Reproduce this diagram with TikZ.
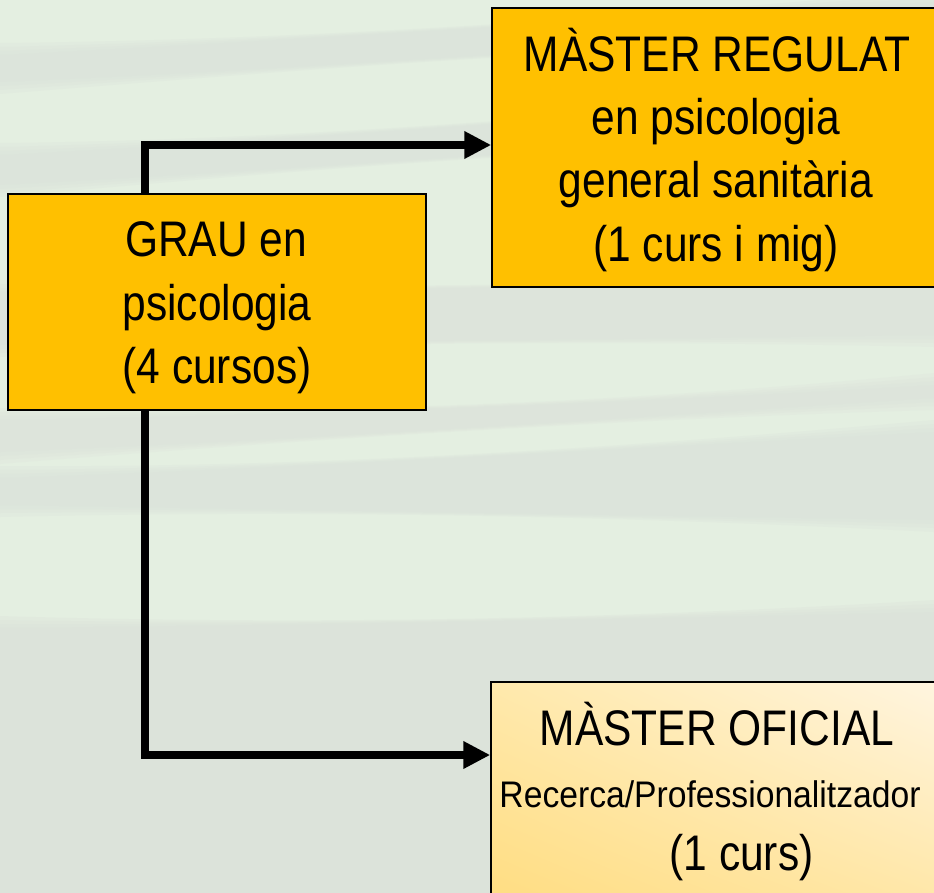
\documentclass[tikz,border=0pt]{standalone}
\usepackage{fontspec}
\setmainfont{Liberation Sans}[FakeStretch=0.85]
\newfontfamily\midsans{Liberation Sans}[FakeStretch=0.91]
\usetikzlibrary{arrows.meta,shadings}
\definecolor{bgA}{HTML}{E4EFE1}
\definecolor{bgB}{HTML}{DBE1DA}
\definecolor{boxfill}{HTML}{FFC000}
\definecolor{offUL}{HTML}{FFE9AC}
\definecolor{offUR}{HTML}{FFF5E0}
\definecolor{offLL}{HTML}{FFDC7E}
\definecolor{offLR}{HTML}{FFE6A4}
\tikzset{
  box/.style={draw=black, line width=1.5pt, fill=boxfill, inner sep=0pt},
  conn/.style={line width=8pt, line join=miter, -{Triangle[length=27pt,width=26pt]}},
  big/.style={inner sep=0pt, anchor=base, font=\fontsize{50pt}{62pt}\selectfont},
  small/.style={inner sep=0pt, anchor=base, font=\midsans\fontsize{37pt}{44pt}\selectfont},
  band/.style={fill=bgB, draw=none}
}
\begin{document}
\begin{tikzpicture}[x=1pt,y=-1pt]
\useasboundingbox (0,0) rectangle (934,893);
\fill[bgA] (0,0) rectangle (934,893);
% soft background bands
\begin{scope}
\clip (0,0) rectangle (934,893);
\foreach \e in {12,8,4,0}{
  \fill[band, opacity=0.28] (0,{55-\e}) .. controls (300,40) and (600,20) .. (934,{2-\e})
     -- (934,{30+\e}) .. controls (600,45) and (300,70) .. (0,{82+\e}) -- cycle;
  \fill[band, opacity=0.28] (0,{155-\e}) .. controls (300,140) and (600,115) .. (934,{95-\e})
     -- (934,{128+\e}) .. controls (600,145) and (300,170) .. (0,{185+\e}) -- cycle;
  \fill[band, opacity=0.22] (0,{292-\e}) .. controls (300,290) and (600,285) .. (934,{288-\e})
     -- (934,{335+\e}) .. controls (600,340) and (300,342) .. (0,{345+\e}) -- cycle;
  \fill[band, opacity=0.22] (0,{420-\e}) .. controls (300,415) and (600,405) .. (934,{385-\e})
     -- (934,{398+\e}) .. controls (600,420) and (300,440) .. (0,{452+\e}) -- cycle;
  \fill[band, opacity=0.28] (0,{478-\e}) .. controls (300,468) and (600,450) .. (934,{432-\e})
     -- (934,{520+\e}) .. controls (600,515) and (300,510) .. (0,{505+\e}) -- cycle;
  \fill[band, opacity=0.3] (0,{628-\e}) .. controls (300,625) and (600,620) .. (934,{612-\e})
     -- (934,893) -- (0,893) -- cycle;
}
\end{scope}
% boxes
\node[box, minimum width=418pt, minimum height=216pt] (grau) at (217,302) {};
\node[box, minimum width=448pt, minimum height=279pt] (regulat) at (716,147.5) {};
\node[draw=black, line width=1.5pt, inner sep=0pt, minimum width=449pt, minimum height=236pt,
      upper left=offUL, upper right=offUR, lower left=offLL, lower right=offLR] (oficial) at (715.5,800) {};
% connectors
\draw[conn] ([xshift=138pt]grau.north west) |- ([yshift=2.5pt]regulat.west);
\draw[conn] ([xshift=138pt]grau.south west) |- ([yshift=45pt]oficial.west);
% texts
\node[big] (g1) at (216,257) {GRAU en};
\node[big] (g2) at (217,320) {psicologia};
\node[big] (g3) at (217,383) {(4 cursos)};
\node[big] (r1) at (717,72) {MÀSTER REGULAT};
\node[big] (r2) at (716,135) {en psicologia};
\node[big] (r3) at (716,198) {general sanitària};
\node[big] (r4) at (716,262) {(1 curs i mig)};
\node[big] (o1) at (717,745) {MÀSTER OFICIAL};
\node[small] (o2) at (710,807) {Recerca/Professionalitzador};
\node[big] (o3) at (741.5,870) {(1 curs)};
\end{tikzpicture}
\end{document}
